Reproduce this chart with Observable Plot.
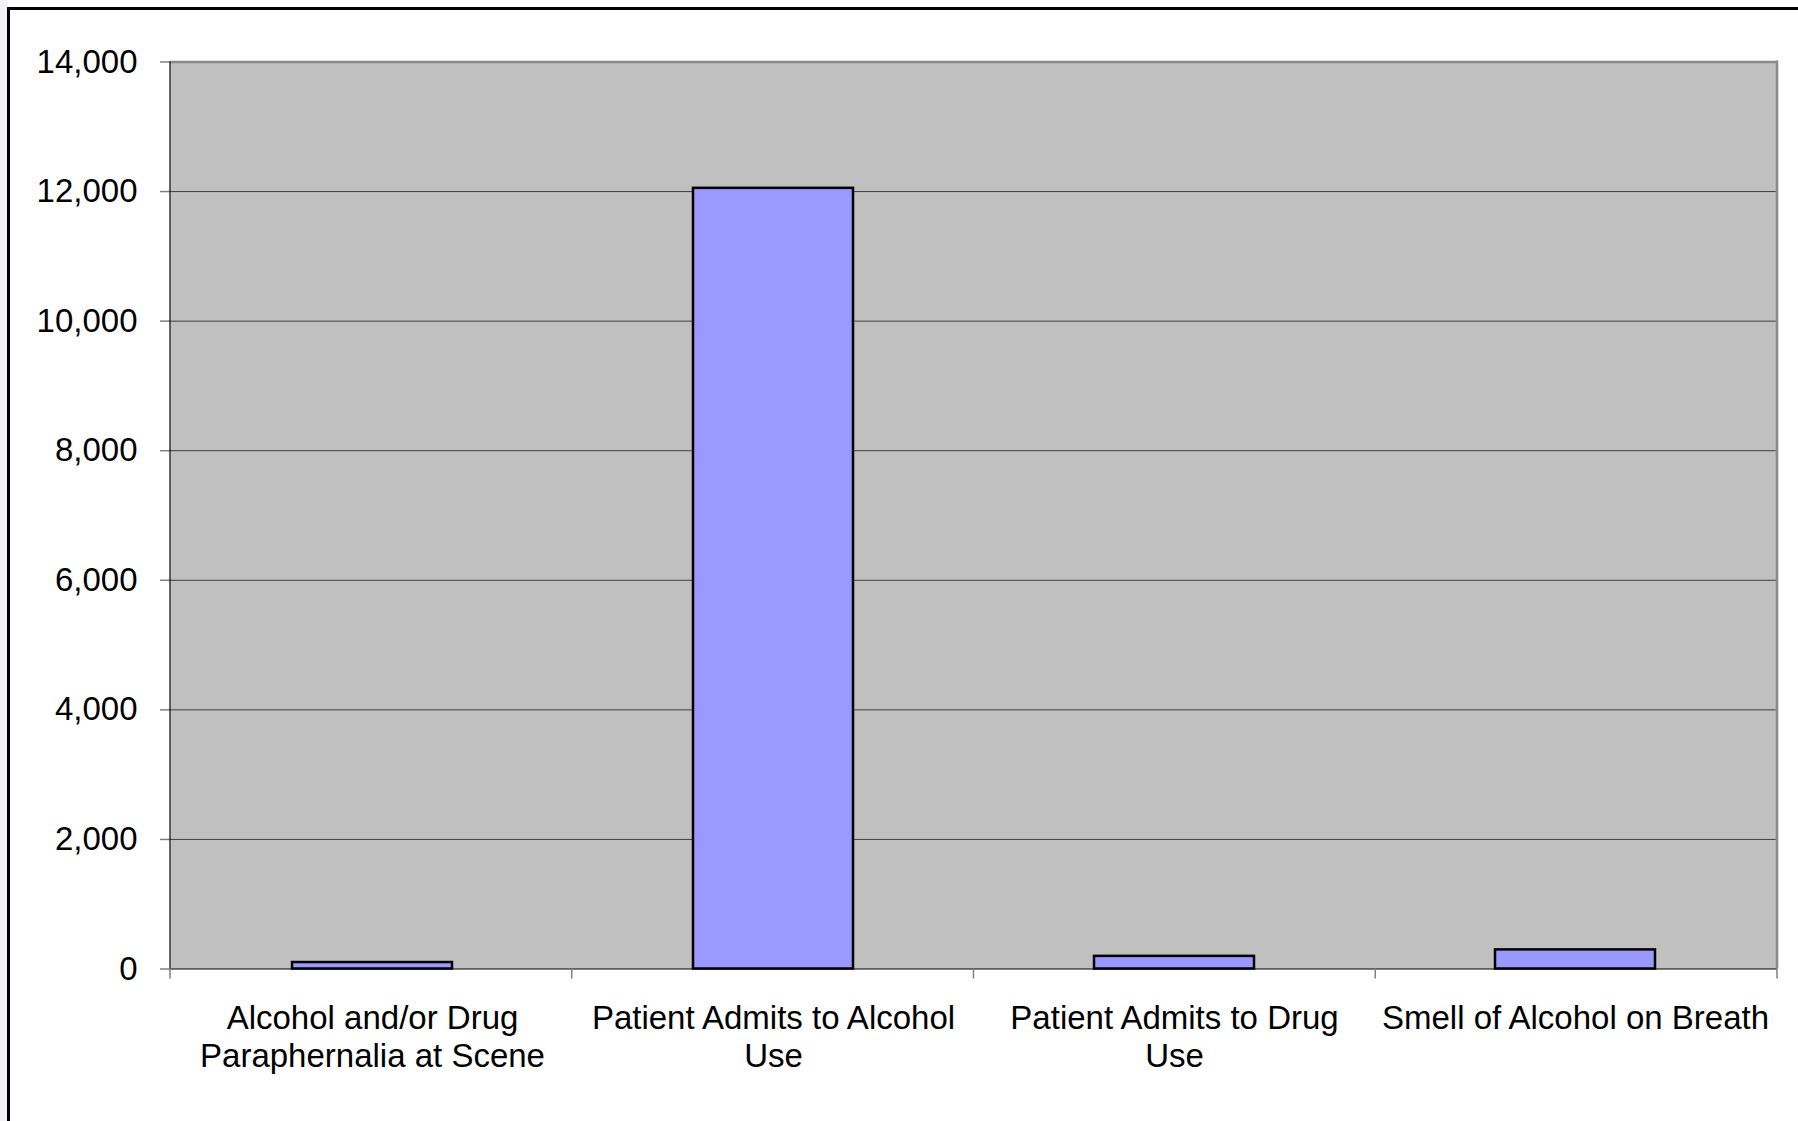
<!DOCTYPE html>
<html>
<head>
<meta charset="utf-8">
<script src="https://cdn.jsdelivr.net/npm/d3@7"></script>
<script src="https://cdn.jsdelivr.net/npm/@observablehq/plot@0.6"></script>
<style>
  html, body { margin: 0; padding: 0; background: #fff; }
  #wrap { position: relative; width: 1798px; height: 1121px; overflow: hidden; background: #fff; }
  #wrap svg { position: absolute; left: 0; top: 0; }
  .strip { position: absolute; left: 0; top: 0; width: 7px; height: 1121px; background: #f2f2f7; }
  .frameTop { position: absolute; left: 7px; top: 7px; width: 1791px; height: 3px; background: #000; }
  .frameLeft { position: absolute; left: 7px; top: 7px; width: 3px; height: 1114px; background: #000; }
</style>
</head>
<body>
<div id="wrap"></div>
<script>
// Data
const categories = [
  "Alcohol and/or Drug Paraphernalia at Scene",
  "Patient Admits to Alcohol Use",
  "Patient Admits to Drug Use",
  "Smell of Alcohol on Breath"
];
const categoryLabels = [
  "Alcohol and/or Drug\nParaphernalia at Scene",
  "Patient Admits to Alcohol\nUse",
  "Patient Admits to Drug\nUse",
  "Smell of Alcohol on Breath"
];
const values = [100, 12050, 195, 295];
const yTicks = [0, 2000, 4000, 6000, 8000, 10000, 12000, 14000];

const data = categories.map((c, i) => ({category: c, value: values[i]}));

const W = 1798, H = 1121;
const mL = 170, mR = 21, mT = 61.5, mB = 152.5;
const font = "'Liberation Sans', Arial, Helvetica, sans-serif";

const chart = Plot.plot({
  width: W,
  height: H,
  marginLeft: mL,
  marginRight: mR,
  marginTop: mT,
  marginBottom: mB,
  style: {fontFamily: font, fontSize: "33px", color: "#000", background: "transparent", overflow: "visible"},
  x: {type: "band", domain: categories, paddingInner: 0.6, paddingOuter: 0.3, align: 0.5},
  y: {type: "linear", domain: [0, 14000]},
  marks: [
    Plot.frame({fill: "#c0c0c0", stroke: null}),
    Plot.gridY(yTicks.filter(t => t > 0 && t < 14000), {stroke: "#404040", strokeOpacity: 1, strokeWidth: 1}),
    Plot.ruleY([14000], {stroke: "#8a8a8a", strokeWidth: 2.5}),
    Plot.barY(data, {x: "category", y: "value", fill: "#9999ff", stroke: "#000", strokeWidth: 2.5}),
    Plot.ruleY([0], {stroke: "#000", strokeWidth: 1.2}),
    Plot.axisY(yTicks, {
      tickFormat: d => d3.format(",")(d),
      tickSize: 10,
      tickPadding: 23,
      stroke: "#808080",
      strokeWidth: 1.5,
      fontSize: 33,
      fill: "#000",
      label: null
    }),
    Plot.axisX({
      tickSize: 0,
      tickPadding: 33,
      tickFormat: d => categoryLabels[categories.indexOf(d)],
      lineHeight: 1.16,
      fontSize: 33,
      fill: "#000",
      label: null
    })
  ]
});

const wrap = document.getElementById("wrap");
wrap.appendChild(chart);

// derived positions from the Plot scales
const xs = chart.scale("x");
const ys = chart.scale("y");
const svg = d3.select(chart);
const y0 = ys.apply(0);
const yTop = ys.apply(14000);
const [xLeft, xRight] = xs.range;
const step = (xRight - xLeft) / categories.length;
const boundaries = d3.range(categories.length + 1).map(i => xLeft + i * step);

// plot-area borders: left black, right grey
svg.append("line").attr("x1", xLeft).attr("x2", xLeft).attr("y1", yTop).attr("y2", y0)
  .attr("stroke", "#000").attr("stroke-width", 1.2);
svg.append("line").attr("x1", xRight).attr("x2", xRight).attr("y1", yTop - 1).attr("y2", y0)
  .attr("stroke", "#8a8a8a").attr("stroke-width", 2.5);

// boundary tick marks below the axis
svg.append("g").attr("aria-label", "x-boundary-ticks")
  .selectAll("line").data(boundaries).join("line")
  .attr("x1", d => d).attr("x2", d => d)
  .attr("y1", y0).attr("y2", y0 + 10)
  .attr("stroke", "#808080").attr("stroke-width", 1.5);

const strip = document.createElement("div"); strip.className = "strip"; wrap.appendChild(strip);
const ft = document.createElement("div"); ft.className = "frameTop"; wrap.appendChild(ft);
const fl = document.createElement("div"); fl.className = "frameLeft"; wrap.appendChild(fl);
</script>
</body>
</html>
